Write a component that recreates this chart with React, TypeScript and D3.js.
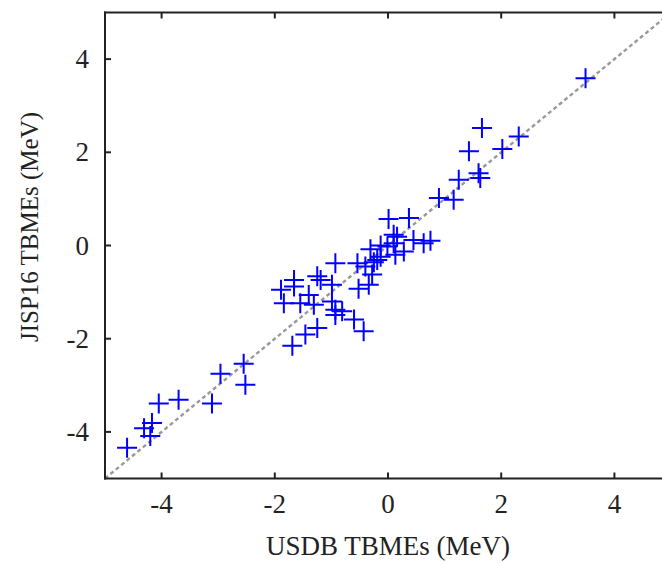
import React from "react";
import * as d3 from "d3";

// USDB vs JISP16 two-body matrix elements (MeV)
const usdb: number[] = [
  3.49, 1.66, 1.43, 2.02, 2.31, 1.25, 1.6, 1.63, 0.9, 1.16,
  0.01, 0.37, 0.16, 0.1, 0.45, 0.63, 0.75, 0.28, -0.01, 0.13,
  -0.13, -0.25, -0.31, -0.4, -0.28, -0.34, -0.52, -0.54, -0.93, -1.66,
  -1.89, -1.25, -1.19, -0.99, -1.4, -1.84, -1.55, -1.31, -0.99, -0.93,
  -0.93, -0.81, -0.6, -0.43, -1.25, -1.46, -1.69, -2.55, -2.96, -2.52,
  -3.7, -4.05, -3.11, -4.17, -4.31, -4.2, -4.61, -1.66, -0.13, 0.1,
  -0.19,
];
const jisp16: number[] = [
  3.59, 2.52, 2.02, 2.07, 2.34, 1.41, 1.55, 1.45, 1.02, 0.98,
  0.57, 0.59, 0.19, 0.05, 0.12, 0.05, 0.1, -0.13, -0.02, -0.2,
  -0.24, -0.36, -0.08, -0.45, -0.62, -0.84, -0.93, -0.38, -0.38, -0.74,
  -0.95, -0.66, -0.74, -0.84, -1.06, -1.24, -1.24, -1.27, -1.2, -1.38,
  -1.49, -1.41, -1.59, -1.84, -1.77, -1.91, -2.15, -2.54, -2.75, -2.99,
  -3.31, -3.39, -3.39, -3.81, -3.92, -4.09, -4.34, -0.88, 0.0, 0.23,
  -0.31,
];
const xTicks: number[] = [-4, -2, 0, 2, 4];
const yTicks: number[] = [-4, -2, 0, 2, 4];
const xTitle = "USDB TBMEs (MeV)";
const yTitle = "JISP16 TBMEs (MeV)";

const W = 662;
const H = 563;
const FONT = "Liberation Serif, Tinos, Times, DejaVu Serif, serif";
const TEXT = "#222";

export default function App() {
  const x = d3.scaleLinear().domain([-5, 5]).range([105, 671]);
  const y = d3.scaleLinear().domain([-5, 5]).range([478.5, 12.5]);
  const points = usdb.map((v, i) => ({ u: v, j: jisp16[i] }));
  const arm = 10;
  const tick = 6;
  const diag = d3.line<number>().x((d) => x(d)).y((d) => y(d))([-5, 5]) ?? "";

  return (
    <svg
      width={W}
      height={H}
      style={{ position: "fixed", left: 0, top: 0, background: "#fff" }}
    >
      <rect x={0} y={0} width={W} height={H} fill="#fff" />
      <defs>
        <clipPath id="plot">
          <rect x={x(-5)} y={y(5)} width={x(5) - x(-5)} height={y(-5) - y(5)} />
        </clipPath>
      </defs>

      {/* y = x reference line */}
      <path
        d={diag}
        clipPath="url(#plot)"
        stroke="#999"
        strokeWidth={2.4}
        strokeDasharray="4,3"
        fill="none"
      />

      {/* data markers */}
      <g stroke="#0000ff" strokeWidth={2} fill="none">
        {points.map((p, i) => {
          const cx = x(p.u);
          const cy = y(p.j);
          return (
            <path
              key={i}
              d={`M${cx - arm},${cy}H${cx + arm}M${cx},${cy - arm}V${cy + arm}`}
            />
          );
        })}
      </g>

      {/* frame */}
      <g stroke="#222" strokeWidth={2} fill="none">
        <line x1={x(-5)} x2={x(-5)} y1={y(5) - 1} y2={y(-5) + 1} />
        <line x1={x(-5) - 1} x2={W} y1={y(5)} y2={y(5)} />
        <line x1={x(-5) - 1} x2={W} y1={y(-5)} y2={y(-5)} />
        {xTicks.map((t) => (
          <g key={`xt${t}`}>
            <line x1={x(t)} x2={x(t)} y1={y(-5)} y2={y(-5) - tick} />
            <line x1={x(t)} x2={x(t)} y1={y(5)} y2={y(5) + tick} />
          </g>
        ))}
        {yTicks.map((t) => (
          <line key={`yt${t}`} x1={x(-5)} x2={x(-5) + tick} y1={y(t)} y2={y(t)} />
        ))}
      </g>

      {/* tick labels */}
      <g fontFamily={FONT} fontSize={27} fill={TEXT}>
        {xTicks.map((t) => (
          <text key={`xl${t}`} x={x(t)} y={513} textAnchor="middle">
            {t}
          </text>
        ))}
        {yTicks.map((t) => (
          <text
            key={`yl${t}`}
            x={89}
            y={y(t)}
            textAnchor="end"
            dominantBaseline="central"
          >
            {t}
          </text>
        ))}
      </g>

      {/* axis titles */}
      <text
        x={388}
        y={555}
        textAnchor="middle"
        fontFamily={FONT}
        fontSize={27}
        fill={TEXT}
      >
        {xTitle}
      </text>
      <text
        transform={`translate(38,227) rotate(-90)`}
        textAnchor="middle"
        fontFamily={FONT}
        fontSize={25}
        fill={TEXT}
      >
        {yTitle}
      </text>
    </svg>
  );
}
